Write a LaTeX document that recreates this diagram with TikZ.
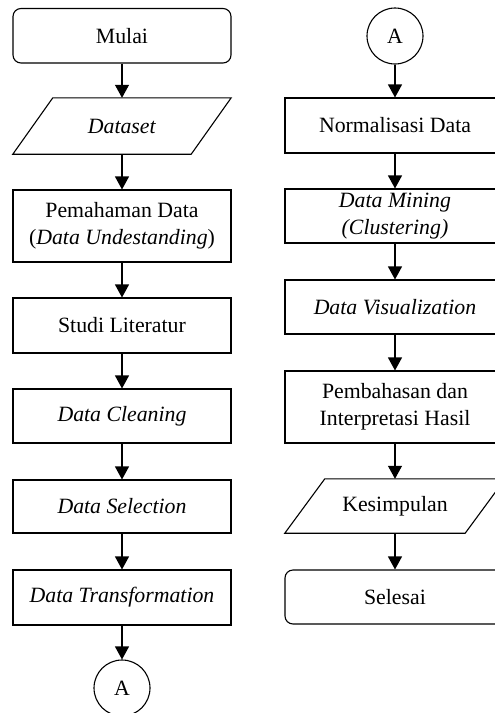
\documentclass[tikz,border=0pt]{standalone}
\usepackage{fontspec}
\setmainfont{Liberation Serif}
\usetikzlibrary{arrows.meta}
\begin{document}
\begin{tikzpicture}[x=1pt,y=-1pt,
  txt/.style={font=\fontsize{21.8}{27.5}\selectfont, align=center, inner sep=0pt},
  box/.style={txt, draw, line width=1.1pt, minimum width=218pt},
  term/.style={box, rounded corners=8pt},
  iotext/.style={txt, minimum width=178pt},
  outline/.style={draw, line width=1.1pt, line join=miter},
  conn/.style={txt, draw, circle, line width=1.1pt, minimum size=56pt},
  arr/.style={line width=1.1pt, -{Triangle[width=14pt,length=13pt]}}]
\useasboundingbox (0,0) rectangle (495,713);
% left column
\node[term, minimum height=54.5pt] (mulai) at (122,35.75) {Mulai};
\node[iotext, minimum height=56pt] (ds) at (122,126) {\textit{Dataset}};
\draw[outline] ([xshift=-20pt]ds.south west) -- ([xshift=20pt]ds.north west) -- ([xshift=20pt]ds.north east) -- ([xshift=-20pt]ds.south east) -- cycle;
\node[box, minimum height=72pt] (pd) at (122,226) {Pemahaman Data\\(\textit{Data Undestanding})};
\node[box, minimum height=55pt] (sl) at (122,325.5) {Studi Literatur};
\node[box, minimum height=54pt] (dc) at (122,416) {\textit{Data Cleaning}};
\node[box, minimum height=53pt] (dsel) at (122,506.5) {\textit{Data Selection}};
\node[box, minimum height=55pt] (dt) at (122,597.5) {\textit{Data Transformation}};
\node[conn] (a1) at (122,688) {A};
\draw[arr] (mulai) -- (ds);
\draw[arr] (ds) -- (pd);
\draw[arr] (pd) -- (sl);
\draw[arr] (sl) -- (dc);
\draw[arr] (dc) -- (dsel);
\draw[arr] (dsel) -- (dt);
\draw[arr] (dt) -- (a1);
% right column
\node[conn] (a2) at (395,36) {A};
\node[box, minimum width=220pt, minimum height=55pt] (nd) at (395,125.5) {Normalisasi Data};
\node[box, minimum width=220pt, minimum height=54pt] (dm) at (395,216) {\textit{Data Mining}\\\textit{(Clustering)}};
\node[box, minimum width=220pt, minimum height=54pt] (dv) at (395,307) {\textit{Data Visualization}};
\node[box, minimum width=220pt, minimum height=72pt] (pih) at (395,407) {Pembahasan dan\\Interpretasi Hasil};
\node[iotext, minimum width=180pt, minimum height=54pt] (kes) at (395,506) {Kesimpulan};
\draw[outline] ([xshift=-20pt]kes.south west) -- ([xshift=20pt]kes.north west) -- ([xshift=20pt]kes.north east) -- ([xshift=-20pt]kes.south east) -- cycle;
\node[term, minimum width=220pt, minimum height=54pt] (sel) at (395,597) {Selesai};
\draw[arr] (a2) -- (nd);
\draw[arr] (nd) -- (dm);
\draw[arr] (dm) -- (dv);
\draw[arr] (dv) -- (pih);
\draw[arr] (pih) -- (kes);
\draw[arr] (kes) -- (sel);
\end{tikzpicture}
\end{document}
